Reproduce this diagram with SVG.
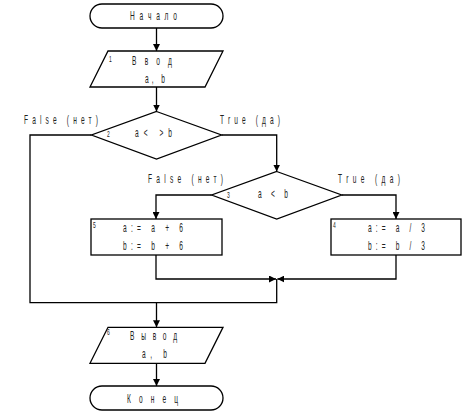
<svg xmlns="http://www.w3.org/2000/svg" width="466" height="415" viewBox="0 0 466 415">
<defs>
<marker id="ah" viewBox="0 0 10 10" refX="10" refY="5" markerWidth="7" markerHeight="7" markerUnits="userSpaceOnUse" orient="auto">
<path d="M0,0 L10,5 L0,10 z" fill="#000"/>
</marker>
</defs>
<style>
.s{fill:#fff;stroke:#000;stroke-width:1.3}
.c{fill:none;stroke:#000;stroke-width:1.3}
.t{font-family:"Liberation Sans",Arial,sans-serif;font-size:12px;fill:#222}
.n{font-family:"Liberation Sans",Arial,sans-serif;font-size:9px;fill:#222}
</style>
<rect width="466" height="415" fill="#fff"/>
<g id="connectors">
<path class="c" d="M156.5,28 V51" marker-end="url(#ah)"/>
<path class="c" d="M156.5,87 V111.5" marker-end="url(#ah)"/>
<path class="c" d="M91.5,135 H30 V302.7 H276.7 V279"/>
<path class="c" d="M221.5,135 H276.7 V171.5" marker-end="url(#ah)"/>
<path class="c" d="M211.7,195 H156 V219" marker-end="url(#ah)"/>
<path class="c" d="M341.7,195 H396 V219" marker-end="url(#ah)"/>
<path class="c" d="M156,255 V279 H276" marker-end="url(#ah)"/>
<path class="c" d="M396,255 V279 H277.4" marker-end="url(#ah)"/>
<path class="c" d="M156.5,302.7 V327.3" marker-end="url(#ah)"/>
<path class="c" d="M156.5,363.3 V386" marker-end="url(#ah)"/>
</g>
<g id="start">
<rect class="s" x="90" y="4" width="133" height="24" rx="12"/>
<text class="t" transform="translate(130,20) scale(0.55,1)" textLength="85.5" lengthAdjust="spacing">Начало</text>
</g>
<g id="input">
<polygon class="s" points="108,51 223,51 205,87 90,87"/>
<text class="n" transform="translate(109,62) scale(0.55,1)">1</text>
<text class="t" transform="translate(132,65) scale(0.55,1)" textLength="72.7" lengthAdjust="spacing">Ввод</text>
<text class="t" transform="translate(145,83) scale(0.55,1)" textLength="36.4" lengthAdjust="spacing">a, b</text>
</g>
<g id="cond1">
<polygon class="s" points="156.5,111.5 221.5,135 156.5,159 91.5,135"/>
<text class="n" transform="translate(107,137) scale(0.55,1)">2</text>
<text class="t" transform="translate(135,137) scale(0.55,1)" textLength="67.3" lengthAdjust="spacing">a&lt; &gt;b</text>
<text class="t" transform="translate(24,124) scale(0.55,1)" textLength="134.5" lengthAdjust="spacing">False (нет)</text>
<text class="t" transform="translate(220,124) scale(0.55,1)" textLength="109.1" lengthAdjust="spacing">True (да)</text>
</g>
<g id="cond2">
<polygon class="s" points="276.7,171.5 341.7,195 276.7,219 211.7,195"/>
<text class="n" transform="translate(227,198) scale(0.55,1)">3</text>
<text class="t" transform="translate(258,198) scale(0.55,1)" textLength="54.5" lengthAdjust="spacing">a &lt; b</text>
<text class="t" transform="translate(148,183) scale(0.55,1)" textLength="136.4" lengthAdjust="spacing">False (нет)</text>
<text class="t" transform="translate(338,183) scale(0.55,1)" textLength="112.7" lengthAdjust="spacing">True (да)</text>
</g>
<g id="box5">
<rect class="s" x="91" y="219" width="131" height="36"/>
<text class="n" transform="translate(93,228) scale(0.55,1)">5</text>
<text class="t" transform="translate(123,232) scale(0.55,1)" textLength="109.1" lengthAdjust="spacing">a:= a + 6</text>
<text class="t" transform="translate(123,250) scale(0.55,1)" textLength="109.1" lengthAdjust="spacing">b:= b + 6</text>
</g>
<g id="box4">
<rect class="s" x="331" y="219" width="130" height="36"/>
<text class="n" transform="translate(333,228) scale(0.55,1)">4</text>
<text class="t" transform="translate(368,232) scale(0.55,1)" textLength="103.6" lengthAdjust="spacing">a:= a / 3</text>
<text class="t" transform="translate(368,250) scale(0.55,1)" textLength="103.6" lengthAdjust="spacing">b:= b / 3</text>
</g>
<g id="output">
<polygon class="s" points="108,327.3 223,327.3 205,363.3 90,363.3"/>
<text class="n" transform="translate(107,335) scale(0.55,1)">6</text>
<text class="t" transform="translate(130,340) scale(0.55,1)" textLength="85.5" lengthAdjust="spacing">Вывод</text>
<text class="t" transform="translate(142,358) scale(0.55,1)" textLength="45.5" lengthAdjust="spacing">a, b</text>
</g>
<g id="end">
<rect class="s" x="90" y="386" width="133" height="24" rx="12"/>
<text class="t" transform="translate(127,403) scale(0.55,1)" textLength="92.7" lengthAdjust="spacing">Конец</text>
</g>
</svg>
